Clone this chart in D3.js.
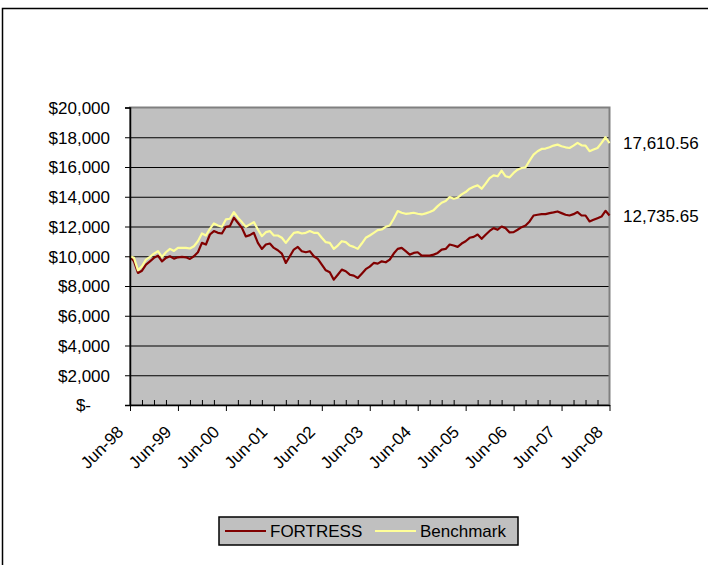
<!DOCTYPE html>
<html>
<head>
<meta charset="utf-8">
<script src="https://cdn.jsdelivr.net/npm/d3@7"></script>
<style>
body{margin:0;background:#fff;}
svg text{font-family:"Liberation Sans",Arial,sans-serif;font-size:17px;fill:#000;}
</style>
</head>
<body>
<svg id="chart" width="708" height="565"></svg>
<script>
// monthly growth of $10,000, Jun-98 .. Jun-08
const fortress=[10000,9660,8875,9030,9440,9660,9890,10045,9660,9890,10000,9840,
	9930,9955,9930,9820,10000,10270,10900,10790,11460,11690,11575,11530,
	11980,12025,12590,12250,11910,11330,11420,11575,10900,10495,10790,10855,
	10560,10405,10180,9550,10000,10450,10630,10340,10270,10340,10000,9820,
	9440,9055,8920,8425,8760,9100,8990,8760,8695,8540,8830,9130,
	9300,9550,9505,9660,9595,9775,10180,10495,10560,10340,10110,10225,
	10270,10045,10045,10045,10110,10225,10450,10495,10790,10720,10630,10855,
	11010,11240,11305,11460,11170,11450,11700,11890,11780,12000,11890,11600,
	11620,11780,11955,12070,12340,12740,12790,12830,12830,12900,12945,13010,
	12900,12790,12740,12830,12970,12740,12740,12340,12450,12560,12670,13055,
	12735.65];
const benchmark=[10000,9890,9055,9325,9775,9955,10180,10340,9955,10270,10495,10360,
	10560,10560,10560,10520,10675,11010,11530,11395,11845,12205,12070,11980,
	12475,12520,12970,12590,12295,11980,12140,12295,11800,11350,11620,11690,
	11395,11395,11240,10900,11240,11575,11620,11530,11575,11690,11575,11575,
	11240,10945,10900,10495,10720,11010,10945,10720,10630,10495,10855,11240,
	11395,11575,11755,11800,11980,12070,12520,13035,12925,12855,12880,12925,
	12855,12810,12880,12970,13100,13370,13595,13710,13980,13865,13935,14160,
	14315,14540,14675,14765,14540,14880,15250,15440,15375,15755,15375,15305,
	15600,15820,15935,15980,16430,16830,17060,17215,17240,17325,17440,17505,
	17395,17325,17280,17440,17620,17460,17440,17060,17170,17280,17620,18000,
	17610.56];
const seriesNames=["FORTRESS","Benchmark"];
const yTicks=[0,2000,4000,6000,8000,10000,12000,14000,16000,18000,20000];
const xTickLabels=["Jun-98","Jun-99","Jun-00","Jun-01","Jun-02","Jun-03","Jun-04","Jun-05","Jun-06","Jun-07","Jun-08"];
const endLabels=["12,735.65","17,610.56"];

// categories: every month from Jun-98 to Jun-08
const fmtMonth=d3.timeFormat("%b-%y");
const months=d3.timeMonth.range(new Date(1998,5,1),new Date(2008,6,1)).map(fmtMonth);

const svg=d3.select('#chart');
const pL=130, pR=609.5, pT=107.5, pB=405;

const x=d3.scalePoint().domain(months).range([pL,pR]);
const y=d3.scaleLinear().domain([0,20000]).range([pB,pT]);

// outer chart border (runs off the right and bottom edge)
svg.append("rect").attr("x",2.5).attr("y",8.5).attr("width",740).attr("height",600)
	.attr("fill","#fff").attr("stroke","#000").attr("stroke-width",1.5);

// plot area
svg.append("rect").attr("x",pL).attr("y",pT).attr("width",pR-pL).attr("height",pB-pT)
	.attr("fill","#c0c0c0");

// gridlines
svg.append("g").attr("transform","translate("+pL+",0)")
	.call(d3.axisLeft(y).tickValues(yTicks.slice(1,-1)).tickSize(-(pR-pL)).tickFormat(""))
	.call(g=>g.select(".domain").remove())
	.selectAll("line").attr("stroke","#000").attr("stroke-width",1);

svg.append("rect").attr("x",pL).attr("y",pT).attr("width",pR-pL).attr("height",pB-pT)
	.attr("fill","none").attr("stroke","#808080").attr("stroke-width",2);

// lines
const line=d3.line().x((d,i)=>x(months[i])).y(d=>y(d));
const colors=["#800000","#ffff99"];
[fortress,benchmark].forEach((s,k)=>{
	svg.append("path").datum(s).attr("d",line).attr("fill","none")
		.attr("stroke",colors[k]).attr("stroke-width",2.2).attr("stroke-linejoin","round");
});

// y axis
const yAxis=svg.append("g").attr("transform","translate("+pL+",0)")
	.call(d3.axisLeft(y).tickValues(yTicks).tickSize(5).tickPadding(15)
		.tickFormat(d=>d? "$"+d3.format(",")(d) : "$-"));
yAxis.attr("font-family",null).attr("font-size",null);
yAxis.select(".domain").attr("stroke","#000").attr("stroke-width",1.5);
yAxis.selectAll("line").attr("stroke","#000");
yAxis.selectAll("text").attr("dy","0.34em").attr("dx",d=>d? 0 : -19);

// x axis, minor ticks every quarter (inside), majors every June (outside)
const quarters=months.filter((m,i)=>i%3==0 && i%12!=0);
svg.append("g").attr("transform","translate(0,"+pB+")")
	.call(d3.axisBottom(x).tickValues(quarters).tickSize(-5).tickFormat(""))
	.call(g=>g.select(".domain").remove())
	.selectAll("line").attr("stroke","#000");

const xAxis=svg.append("g").attr("transform","translate(0,"+pB+")")
	.call(d3.axisBottom(x).tickValues(xTickLabels).tickSize(6).tickSizeOuter(0));
xAxis.attr("font-family",null).attr("font-size",null);
xAxis.select(".domain").attr("stroke","#000").attr("stroke-width",1.5);
xAxis.selectAll("line").attr("stroke","#000");
xAxis.selectAll("text").attr("y",0).attr("dy",0)
	.attr("text-anchor","end").attr("transform","translate(-6,28) rotate(-45)");

// values at the end of each line
svg.selectAll(".endlabel").data([fortress,benchmark]).enter().append("text")
	.attr("class","endlabel").attr("x",623)
	.attr("y",d=>y(d[d.length-1])+6)
	.text((d,i)=>endLabels[i]);

// legend
const legend=svg.append("g");
legend.append("rect").attr("x",219).attr("y",517).attr("width",299).attr("height",28)
	.attr("fill","#c0c0c0").attr("stroke","#000").attr("stroke-width",1.5);
const legX=[225,375];
seriesNames.forEach((n,k)=>{
	legend.append("line").attr("x1",legX[k]).attr("x2",legX[k]+41).attr("y1",531).attr("y2",531)
		.attr("stroke",colors[k]).attr("stroke-width",2.2);
	legend.append("text").attr("x",legX[k]+45).attr("y",537).text(n);
});
</script>
</body>
</html>
